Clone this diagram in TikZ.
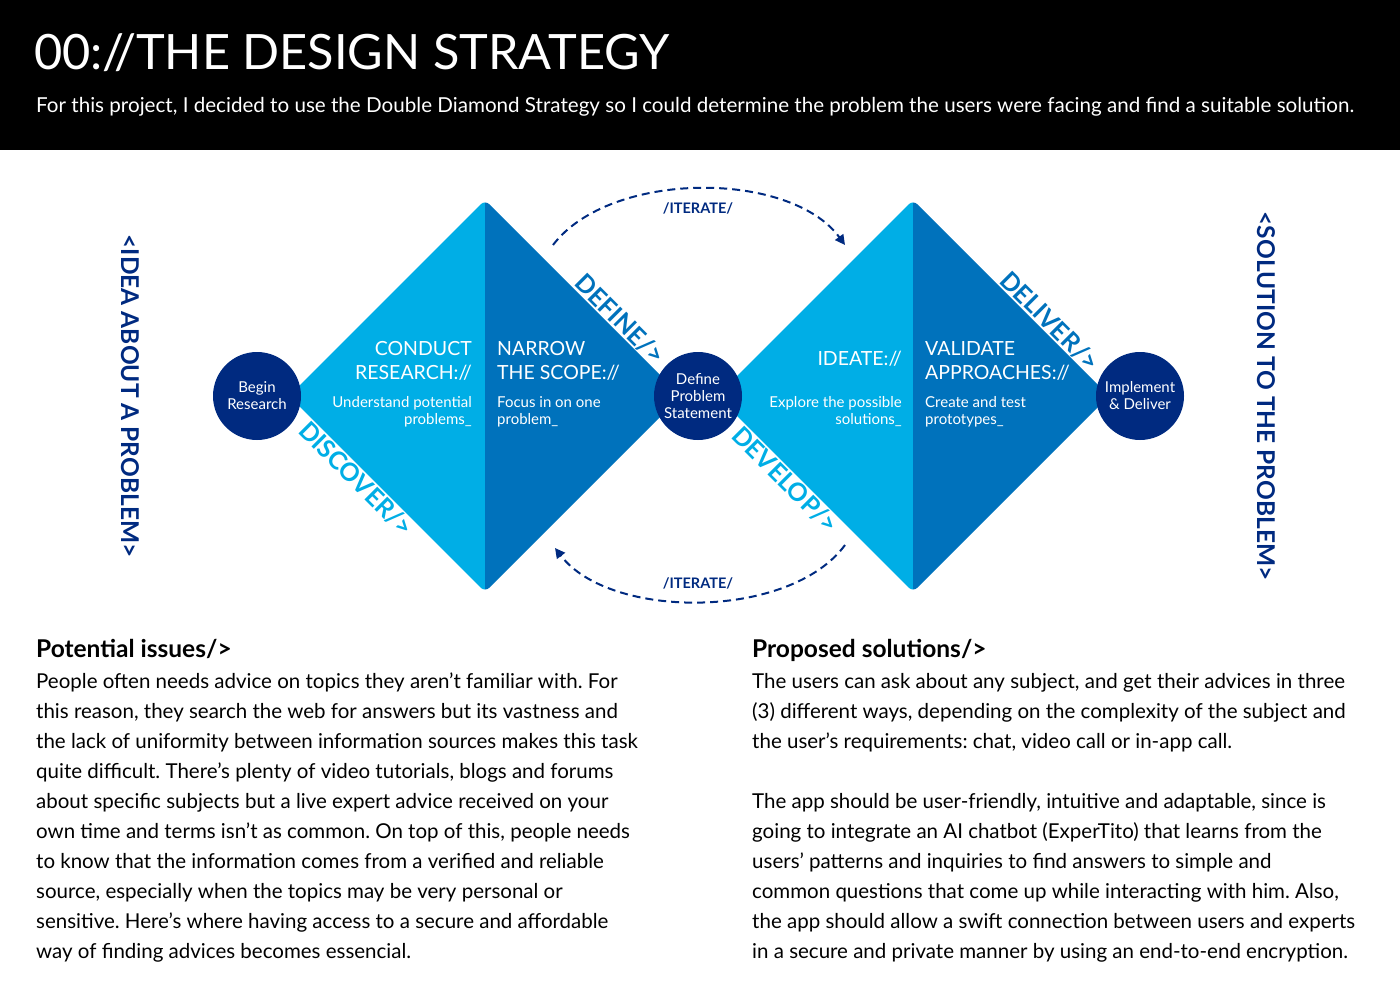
\documentclass[tikz,border=0pt]{standalone}
\usepackage{fontspec}
\setmainfont{Lato}
\usetikzlibrary{arrows.meta,positioning,calc}
\definecolor{lightblue}{HTML}{00AEE6}
\definecolor{darkblue}{HTML}{0072BC}
\definecolor{navy}{HTML}{002A80}
\frenchspacing

\begin{document}
\begin{tikzpicture}[x=1pt,y=1pt,
  stage/.style={circle,fill=navy,text=white,minimum size=88pt,inner sep=0pt,align=center,
    font=\fontsize{15}{17}\selectfont},
  phase/.style={text=white,inner sep=0pt,font=\fontsize{19.5}{24}\selectfont},
  phasesub/.style={text=white,inner sep=0pt,font=\fontsize{15}{17}\selectfont},
  edgelab/.style={rotate=-45,inner sep=1pt,font=\fontsize{25}{25}\selectfont\bfseries},
  iter/.style={navy,line width=2pt,dash pattern=on 8pt off 5pt,-{Triangle[length=10pt,width=10pt]}},
  iterlab/.style={text=navy,inner sep=0pt,font=\fontsize{14.5}{14}\selectfont\bfseries},
  side/.style={text=navy,rotate=-90,inner sep=0pt,font=\fontsize{24.5}{24}\selectfont\bfseries},
  body/.style={anchor=base west,inner sep=0pt,font=\fontsize{20.5}{30}\selectfont},
  head/.style={anchor=base west,inner sep=0pt,font=\fontsize{24.5}{30}\selectfont\bfseries},
]
  \useasboundingbox (0,0) rectangle (1400,-995);
  \fill[black] (0,0) rectangle (1400,-150);
  \node[anchor=base west,inner sep=0pt,text=white,font=\fontsize{48.7}{48}\selectfont] (title) at (34,-70) {00://THE DESIGN STRATEGY};
  \node[anchor=base west,inner sep=0pt,text=white,font=\fontsize{20.6}{21}\selectfont] (intro) at (36,-113)
    {For this project, I decided to use the Double Diamond Strategy so I could determine the problem the users were facing and find a suitable solution.};

  % the two diamonds
  \foreach \cx in {485,913} {
    \begin{scope}
      \clip[rounded corners=6pt] (\cx,-200) -- (\cx+196,-396) -- (\cx,-592) -- (\cx-196,-396) -- cycle;
      \fill[lightblue] (\cx-200,-195) rectangle (\cx,-597);
      \fill[darkblue] (\cx,-195) rectangle (\cx+200,-597);
    \end{scope}
  }

  % stages
  \node[stage] (begin) at (257,-396) {Begin\\Research};
  \node[stage] (define) at (698,-396) {Define\\Problem\\Statement};
  \node[stage] (deliver) at (1140,-396) {Implement\\\& Deliver};

  % phase texts
  \node[phase,anchor=north east,align=right] (research) at (472,-341) {CONDUCT\\RESEARCH://};
  \node[phasesub,anchor=north east,align=right] (researchsub) at (472,-396) {Understand potential\\problems\_};
  \node[phase,anchor=north west,align=left] (scope) at (497,-341) {NARROW\\THE SCOPE://};
  \node[phasesub,anchor=north west,align=left] (scopesub) at (497,-396) {Focus in on one\\problem\_};
  \node[phase,anchor=north east,align=right] (ideate) at (902,-351) {IDEATE://};
  \node[phasesub,anchor=north east,align=right] (ideatesub) at (902,-396) {Explore the possible\\solutions\_};
  \node[phase,anchor=north west,align=left] (validate) at (925,-341) {VALIDATE\\APPROACHES://};
  \node[phasesub,anchor=north west,align=left] (validatesub) at (925,-396) {Create and test\\prototypes\_};

  % labels along the edges
  \node[edgelab,text=darkblue,anchor=south] (definelab) at (612,-327) {DEFINE/>};
  \node[edgelab,text=darkblue,anchor=south] (deliverlab) at (1042,-329) {DELIVER/>};
  \node[edgelab,text=lightblue,anchor=north] (discoverlab) at (364,-471) {DISCOVER/>};
  \node[edgelab,text=lightblue,anchor=north] (developlab) at (793,-472) {DEVELOP/>};

  % iterate loops
  \coordinate (topA) at (553,-245);
  \coordinate (topB) at (845,-245);
  \coordinate (botA) at (845,-545);
  \coordinate (botB) at (555,-548);
  \draw[iter] (topA) .. controls (610,-170) and (790,-170) .. (topB);
  \draw[iter] (botA) .. controls (790,-620) and (610,-620) .. (botB);
  \node[iterlab] (iterTop) at (698,-208) {/ITERATE/};
  \node[iterlab] (iterBot) at (698,-583) {/ITERATE/};

  % side captions
  \node[side] (idea) at (130,-396) {<IDEA ABOUT A PROBLEM>};
  \node[side] (solution) at (1266,-396) {<SOLUTION TO THE PROBLEM>};

  % text columns
  \node[head] (issues) at (36,-657) {Potential issues/>};
  \foreach \i/\txt in {0/{People often needs advice on topics they aren’t familiar with. For},
      1/{this reason, they search the web for answers but its vastness and},
      2/{the lack of uniformity between information sources makes this task},
      3/{quite difficult. There’s plenty of video tutorials, blogs and forums},
      4/{about specific subjects but a live expert advice received on your},
      5/{own time and terms isn’t as common. On top of this, people needs},
      6/{to know that the information comes from a verified and reliable},
      7/{source, especially when the topics may be very personal or},
      8/{sensitive. Here’s where having access to a secure and affordable},
      9/{way of finding advices becomes essencial.}}
    \node[body] (left\i) at (36,{-688-30*\i}) {\txt};

  \node[head] (solutions) at (752,-657) {Proposed solutions/>};
  \foreach \i/\txt in {0/{The users can ask about any subject, and get their advices in three},
      1/{(3) different ways, depending on the complexity of the subject and},
      2/{the user’s requirements: chat, video call or in-app call.},
      4/{The app should be user-friendly, intuitive and adaptable, since is},
      5/{going to integrate an AI chatbot (ExperTito) that learns from the},
      6/{users’ patterns and inquiries to find answers to simple and},
      7/{common questions that come up while interacting with him. Also,},
      8/{the app should allow a swift connection between users and experts},
      9/{in a secure and private manner by using an end-to-end encryption.}}
    \node[body] (right\i) at (752,{-688-30*\i}) {\txt};
\end{tikzpicture}
\end{document}
